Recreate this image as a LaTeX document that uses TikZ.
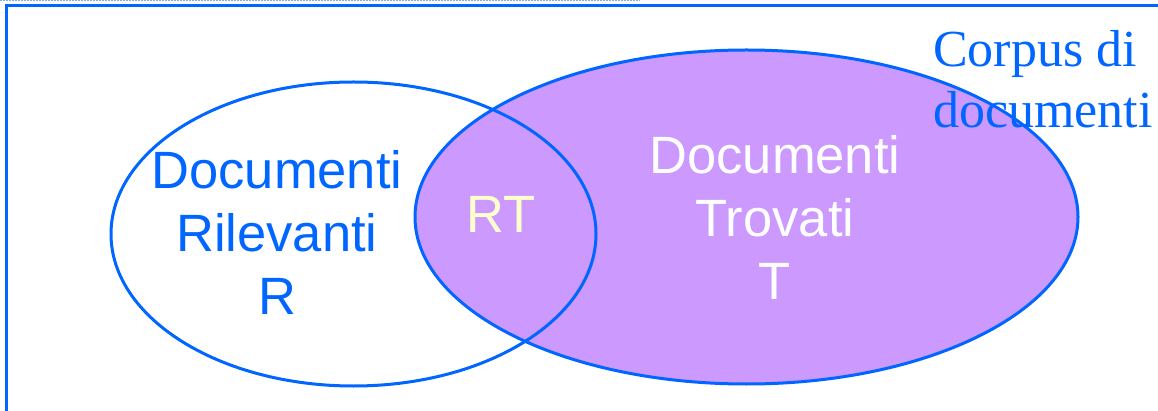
\documentclass[tikz,border=0pt]{standalone}
\usepackage{fontspec}
\setmainfont{Liberation Serif}
\newfontfamily\arialfont{Liberation Sans}
\usetikzlibrary{shapes.geometric}
\definecolor{bordo}{RGB}{0,102,255}
\definecolor{viola}{RGB}{204,153,255}
\definecolor{crema}{RGB}{255,255,204}
\definecolor{puntini}{RGB}{120,170,255}
\begin{document}
\begin{tikzpicture}
	[
		x=1pt,
		y=-1pt
	]
	
	\tikzstyle{Insieme} = [
		ellipse, 
		inner sep=0pt, 
		draw=bordo, 
		line width=3pt
	]
	\tikzstyle{Etichetta} = [
		inner sep=0pt, 
		align=center, 
		anchor=base, 
		font=\arialfont\fontsize{52.5}{63}\selectfont
	]
	
	\useasboundingbox (0,0) rectangle (1158,411);
	\clip (0,0) rectangle (1158,411);
	
	% cornice
	\draw [puntini, dash pattern=on 2pt off 1pt, line width=2pt] (0,0.5) -- (640,0.5);
	\draw [bordo, line width=3pt] (6,5.5) rectangle (1180,430);
	
	\node [Insieme, fill=viola, minimum width=663, minimum height=334] (trovati) at (746.5,217) {};
	\node [Insieme, minimum width=485, minimum height=304] (rilevanti) at (353.5,234) {};
	
	% base = ultima riga
	\node [Etichetta, text=bordo] (testoR) at (277,315) {Documenti\\Rilevanti\\R};
	\node [Etichetta, text=white] (testoT) at (775,300) {Documenti\\Trovati\\T};
	\node [Etichetta, text=crema] (testoRT) at (501,233) {RT};
	\node [inner sep=0pt, align=left, anchor=base west, text=bordo, 
		font=\fontsize{52}{61}\selectfont] (corpus) at (933,128) {Corpus di\\documenti};
\end{tikzpicture}
\end{document}
